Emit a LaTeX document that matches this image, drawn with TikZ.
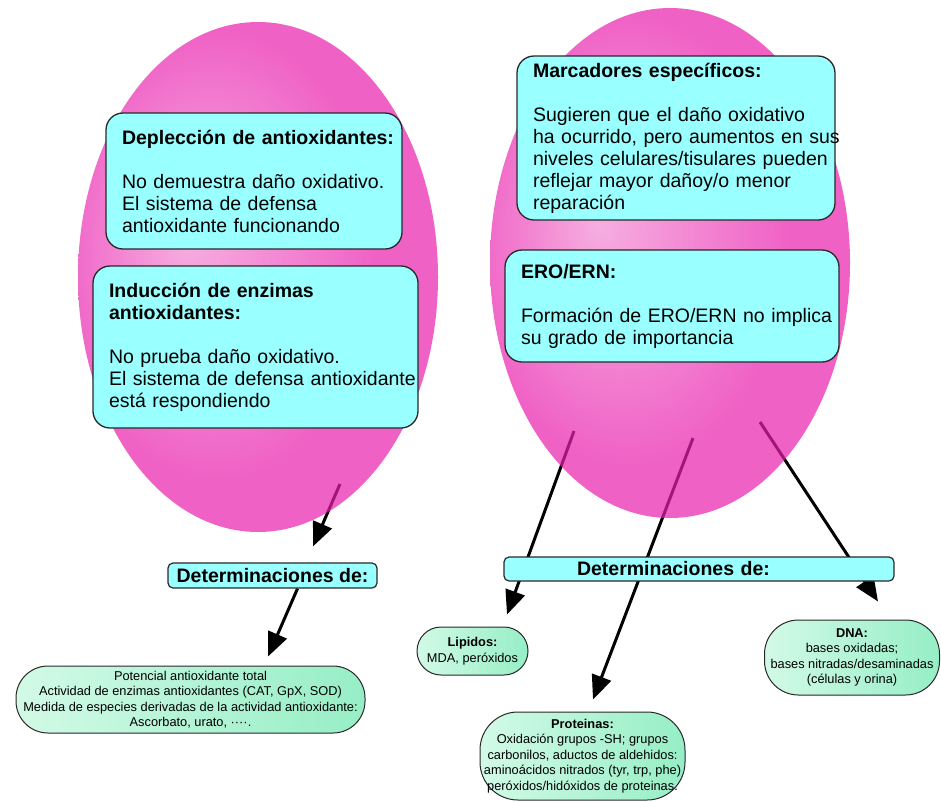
\documentclass[tikz,border=0pt]{standalone}
\usepackage{fontspec}
\setmainfont{Liberation Sans}
\usetikzlibrary{shapes.geometric,arrows.meta}
\definecolor{pinkin}{RGB}{243,140,212}
\definecolor{pinkout}{RGB}{234,31,174}
\definecolor{cyanbox}{RGB}{153,255,255}
\definecolor{greenin}{RGB}{210,250,230}
\definecolor{greenout}{RGB}{150,238,198}
\definecolor{edge}{RGB}{40,40,40}
\pgfdeclareradialshading{egg}{\pgfpoint{-10bp}{4bp}}{color(0bp)=(pinkin); color(22bp)=(pinkout); color(50bp)=(pinkout)}
\pgfdeclarelayer{back}
\pgfdeclarelayer{bg}
\pgfsetlayers{back,bg,main}
\newcommand{\boxline}[1]{\mbox{#1}}

\begin{document}
\begin{tikzpicture}[x=1pt,y=-1pt,
  oval/.style={ellipse,shade,shading=egg,opacity=0.7,minimum width=360pt,minimum height=510pt,inner sep=0pt},
  bigbox/.style={draw=edge,line width=1.3pt,fill=cyanbox,rounded corners=17pt,align=left,inner xsep=16pt,inner ysep=0pt,font=\fontsize{19.5}{22}\selectfont},
  detbox/.style={draw=edge,line width=1.2pt,fill=cyanbox,rounded corners=5pt,inner sep=0pt,font=\bfseries\fontsize{19.5}{22}\selectfont},
  greenbox/.style={draw=edge,line width=1pt,left color=greenin,right color=greenout,rounded corners=24pt,align=center,inner sep=2pt,font=\fontsize{12.8}{15.5}\selectfont},
  arr/.style={line width=3pt,-{Triangle[length=24pt,width=20pt]}}]

  \begin{pgfonlayer}{back}
    \fill[white] (0,0) rectangle (941,801);
  \end{pgfonlayer}
  \useasboundingbox (0,0) rectangle (941,801);

  \node[oval] (eggL) at (258,277) {};
  \node[oval] (eggR) at (670,263) {};

  \node[bigbox,text width=264pt,minimum width=296pt,minimum height=136pt] (dep) at (254,181)
    {\boxline{\bfseries Deplección de antioxidantes:}\\[22pt]\boxline{No demuestra daño oxidativo.}\\\boxline{El sistema de defensa}\\\boxline{antioxidante funcionando}};
  \node[bigbox,text width=293pt,minimum width=325pt,minimum height=162pt] (ind) at (255.5,347)
    {\boxline{\bfseries Inducción de enzimas}\\\boxline{\bfseries antioxidantes:}\\[22pt]\boxline{No prueba daño oxidativo.}\\\boxline{El sistema de defensa antioxidante}\\\boxline{está respondiendo}};
  \node[bigbox,text width=286pt,minimum width=318pt,minimum height=164pt] (marc) at (676,138)
    {\boxline{\bfseries Marcadores específicos:}\\[22pt]\boxline{Sugieren que el daño oxidativo}\\\boxline{ha ocurrido, pero aumentos en sus}\\\boxline{niveles celulares/tisulares pueden}\\\boxline{reflejar mayor dañoy/o menor}\\\boxline{reparación}};
  \node[bigbox,text width=302pt,minimum width=334pt,minimum height=112pt] (ero) at (672,306)
    {\boxline{\bfseries ERO/ERN:}\\[22pt]\boxline{Formación de ERO/ERN no implica}\\\boxline{su grado de importancia}};

  \node[detbox,minimum width=209pt,minimum height=25pt] (detL) at (272.5,575.5) {Determinaciones de:};
  \node[detbox,minimum width=390pt,minimum height=24pt,text width=390pt,align=left] (detR) at (699,569)
    {\hspace*{73pt}Determinaciones de:};

  \node[greenbox,minimum width=349pt,minimum height=67pt,rounded corners=32pt] (antiox) at (190.5,699.5)
    {Potencial antioxidante total\\Actividad de enzimas antioxidantes (CAT, GpX, SOD)\\Medida de especies derivadas de la actividad antioxidante:\\Ascorbato, urato, ····.};
  \node[greenbox,minimum width=111pt,minimum height=48pt] (lipid) at (472.5,651)
    {\textbf{Lipidos:}\\MDA, peróxidos};
  \node[greenbox,minimum width=205pt,minimum height=88pt,rounded corners=38pt] (prot) at (582.5,756)
    {\textbf{Proteinas:}\\Oxidación grupos -SH; grupos\\carbonilos, aductos de aldehidos:\\aminoácidos nitrados (tyr, trp, phe)\\peróxidos/hidóxidos de proteinas.};
  \node[greenbox,minimum width=175pt,minimum height=75pt,rounded corners=34pt] (dna) at (852,657.5)
    {\textbf{DNA:}\\bases oxidadas;\\bases nitradas/desaminadas\\(células y orina)};

  \coordinate (s1) at (340,484);
  \coordinate (s3) at (574,431);
  \coordinate (s4) at (693,438);
  \coordinate (s5) at (760,422);

  \begin{pgfonlayer}{bg}
    \draw[arr] (s1) -- ([xshift=40.5pt,yshift=16pt]detL.north);
    \draw[arr] ([xshift=25pt]detL.south) -- ([xshift=77.5pt,yshift=9pt]antiox.north);
    \draw[arr] (s3) -- ([xshift=34.5pt,yshift=12pt]lipid.north);
    \draw[arr] (s4) -- ([xshift=10.5pt,yshift=12pt]prot.north);
    \draw[arr] (s5) -- ([xshift=26pt,yshift=18pt]dna.north);
  \end{pgfonlayer}
\end{tikzpicture}
\end{document}
